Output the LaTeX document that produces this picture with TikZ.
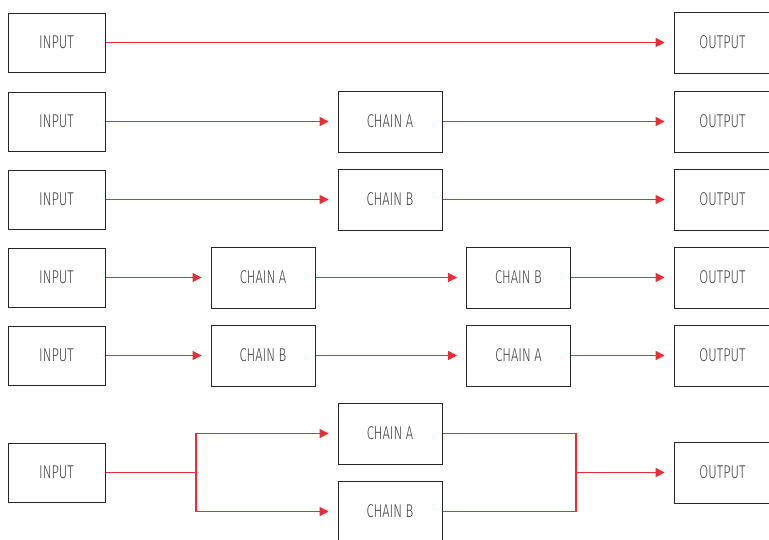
\documentclass[tikz,border=0pt]{standalone}
\usepackage{fontspec}
\setmainfont{Fira Sans}[UprightFont=* Light, FakeStretch=0.7]
\usetikzlibrary{arrows.meta}
\definecolor{flow}{HTML}{EE2A35}
\definecolor{txt}{HTML}{454545}
\tikzset{
  box/.style={draw=black!85, line width=1pt, fill=white, minimum width=97pt, minimum height=59pt, inner sep=0pt, text=txt, font=\fontsize{18.5}{19}\selectfont},
  chainbox/.style={box, minimum width=104pt, minimum height=61pt},
  outbox/.style={box, minimum height=61pt},
  arr/.style={draw=flow, line width=1.6pt, -{Triangle[length=9pt,width=9pt]}, shorten >=9pt},
  ln/.style={draw=flow, line width=1.6pt},
}
\begin{document}
\begin{tikzpicture}[x=1pt, y=-1pt]
\useasboundingbox (0,0) rectangle (769,539);
\clip (0,0) rectangle (769,539);
% row 1
\node[box] (i1) at (56.5,42.5) {INPUT};
\node[outbox] (o1) at (722.5,42.5) {OUTPUT};
\draw[arr] (i1) -- (o1);
% row 2
\node[box] (i2) at (56.5,121.5) {INPUT};
\node[chainbox] (c2) at (390,121.5) {CHAIN A};
\node[outbox] (o2) at (722.5,121.5) {OUTPUT};
\draw[arr] (i2) -- (c2);
\draw[arr] (c2) -- (o2);
% row 3
\node[box] (i3) at (56.5,199.5) {INPUT};
\node[chainbox] (c3) at (390,199.5) {CHAIN B};
\node[outbox] (o3) at (722.5,199.5) {OUTPUT};
\draw[arr] (i3) -- (c3);
\draw[arr] (c3) -- (o3);
% row 4
\node[box] (i4) at (56.5,277.5) {INPUT};
\node[chainbox] (c4a) at (263,277.5) {CHAIN A};
\node[chainbox] (c4b) at (518.5,277.5) {CHAIN B};
\node[outbox] (o4) at (722.5,277.5) {OUTPUT};
\draw[arr] (i4) -- (c4a);
\draw[arr] (c4a) -- (c4b);
\draw[arr] (c4b) -- (o4);
% row 5
\node[box] (i5) at (56.5,355.5) {INPUT};
\node[chainbox] (c5b) at (263,355.5) {CHAIN B};
\node[chainbox] (c5a) at (518.5,355.5) {CHAIN A};
\node[outbox] (o5) at (722.5,355.5) {OUTPUT};
\draw[arr] (i5) -- (c5b);
\draw[arr] (c5b) -- (c5a);
\draw[arr] (c5a) -- (o5);
% row 6
\node[box] (i6) at (56.5,472.5) {INPUT};
\node[chainbox] (c6a) at (390,433.5) {CHAIN A};
\node[chainbox] (c6b) at (390,511.5) {CHAIN B};
\node[outbox] (o6) at (722.5,472.5) {OUTPUT};
\coordinate (split) at (195.75,472.5);
\coordinate (merge) at (575.75,472.5);
\draw[ln] (i6.east) -- (split);
\draw[arr] (split) |- (c6a.west);
\draw[arr] (split) |- (c6b.west);
\draw[ln] (c6a.east) -| (merge);
\draw[ln] (c6b.east) -| (merge);
\draw[arr] (merge) -- (o6.west);
\end{tikzpicture}
\end{document}
